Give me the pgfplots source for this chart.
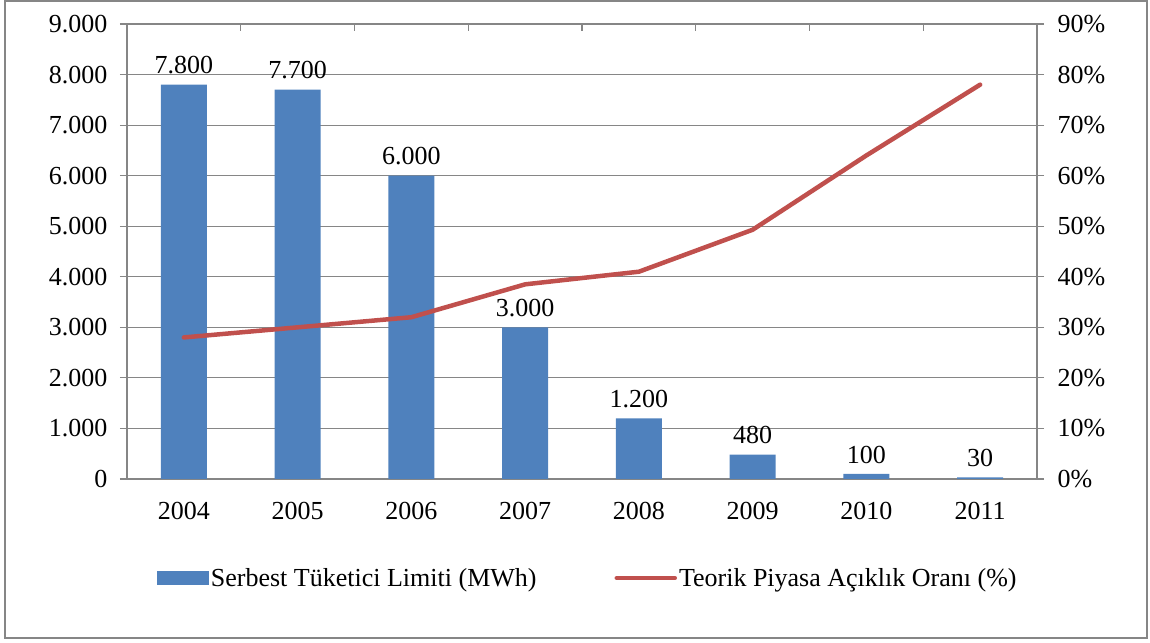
\documentclass[border=0pt]{standalone}
\usepackage{fontspec}
\setmainfont{Liberation Serif}
\usepackage{pgfplots}
\pgfplotsset{compat=1.18}
\definecolor{barblue}{RGB}{79,129,189}
\definecolor{linered}{RGB}{192,80,77}
\definecolor{gridgray}{RGB}{134,134,134}
\begin{document}
\begin{tikzpicture}[font=\fontsize{26}{30}\selectfont]
\useasboundingbox (0pt,0pt) rectangle (1150pt,642pt);
\draw[gridgray, line width=1.2pt] (5pt,4pt) rectangle (1147pt,641pt);
\begin{axis}[
  at={(127pt,163pt)}, anchor=south west,
  scale only axis, width=910pt, height=455pt,
  xmin=-0.5, xmax=7.5, ymin=0, ymax=9000,
  axis x line*=bottom, axis y line*=left,
  xtick={0,1,2,3,4,5,6,7},
  xticklabels={2004,2005,2006,2007,2008,2009,2010,2011},
  major x tick style={draw=none},
  xticklabel style={yshift=-13pt},
  ytick={0,1000,...,9000},
  ymajorgrids, grid style={gridgray, line width=1.2pt},
  axis line style={gridgray, line width=1.2pt},
  tick style={gridgray, line width=1.2pt},
  tick align=outside, major tick length=7pt,
  yticklabel style={xshift=-9pt, /pgf/number format/.cd, 1000 sep={.}, assume math mode=true},
  ybar, bar width=46pt, bar shift=0pt,
  nodes near coords={\pgfmathprintnumber[assume math mode=true, 1000 sep={.}]{\pgfplotspointmeta}},
  nodes near coords style={black, yshift=7pt},
]
\addplot[fill=barblue, draw=none] coordinates {
  (0,7800) (1,7700) (2,6000) (3,3000) (4,1200) (5,480) (6,100) (7,30)};
\end{axis}
\begin{axis}[
  at={(127pt,163pt)}, anchor=south west,
  scale only axis, width=910pt, height=455pt,
  xmin=-0.5, xmax=7.5, ymin=0, ymax=90,
  axis x line*=top, axis y line*=right,
  xtick={0.5,1.5,2.5,3.5,4.5,5.5,6.5}, xticklabels={},
  ytick={0,10,...,90},
  yticklabel={\pgfmathprintnumber[assume math mode=true]{\tick}\%},
  yticklabel style={xshift=10pt},
  axis line style={gridgray, line width=1.2pt},
  tick style={gridgray, line width=1.2pt},
  tick align=outside, major tick length=7pt,
  x tick style={yshift=-7pt},
  legend style={at={(0.5066,-0.2176)}, anchor=center, draw=none, fill=none,
    legend columns=2, /tikz/every even column/.append style={column sep=76pt},
    legend cell align=left},
]
\addlegendimage{legend image code/.code={\fill[barblue] (0pt,-6.5pt) rectangle (51pt,6.5pt);}}
\addlegendentry{Serbest Tüketici Limiti (MWh)}
\addplot[linered, line width=4.5pt, line cap=round, line join=round,
  legend image code/.code={\draw[linered, line width=4.5pt] (0pt,0pt) -- (58pt,0pt);}]
  coordinates {(0,28) (1,30) (2,32) (3,38.5) (4,41) (5,49.3) (6,64) (7,78)};
\addlegendentry{Teorik Piyasa Açıklık Oranı (\%)}
\end{axis}
\end{tikzpicture}
\end{document}
